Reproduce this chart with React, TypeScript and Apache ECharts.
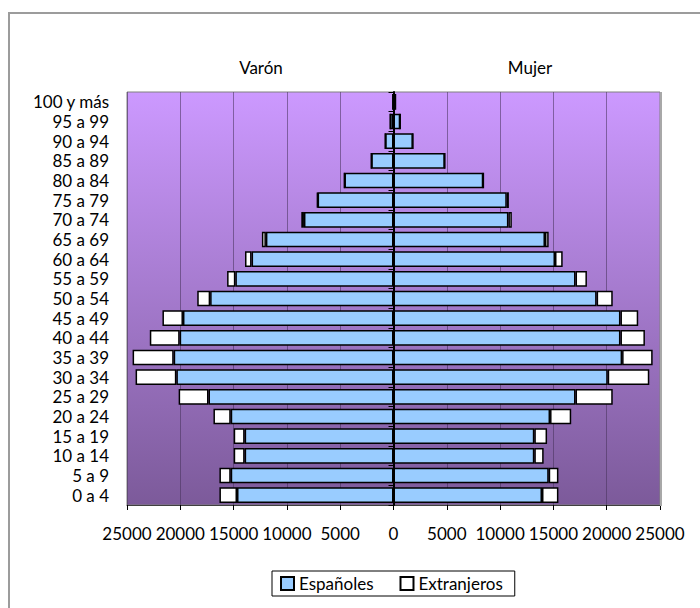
import React, { useEffect, useRef } from 'react';
import * as echarts from 'echarts';

const ageGroups = ['0 a 4', '5 a 9', '10 a 14', '15 a 19', '20 a 24', '25 a 29', '30 a 34', '35 a 39', '40 a 44', '45 a 49', '50 a 54', '55 a 59', '60 a 64', '65 a 69', '70 a 74', '75 a 79', '80 a 84', '85 a 89', '90 a 94', '95 a 99', '100 y más'];

const varonEspanoles = [14680, 15270, 13965, 13965, 15270, 17355, 20370, 20620, 20060, 19750, 17200, 14835, 13314, 11970, 8400, 7120, 4600, 2080, 775, 310, 60];
const varonExtranjeros = [1650, 1060, 1025, 1025, 1620, 2800, 3825, 3855, 2800, 1925, 1210, 775, 616, 375, 250, 40, 20, 10, 5, 3, 10];
const mujerEspanoles = [13930, 14560, 13210, 13210, 14685, 17075, 20095, 21445, 21290, 21290, 19055, 17075, 15150, 14210, 10780, 10625, 8420, 4810, 1820, 630, 180];
const mujerExtranjeros = [1540, 910, 875, 1195, 1985, 3490, 3900, 2865, 2295, 1665, 1510, 1070, 720, 345, 320, 200, 20, 10, 5, 3, 10];

const sideTitles = ['Varón', 'Mujer'];
const legendNames = ['Españoles', 'Extranjeros'];

const FONT = 'Lato';

export default function App() {
  const ref = useRef<HTMLDivElement>(null);

  useEffect(() => {
    const chart = echarts.init(ref.current!, null, { renderer: 'svg' });
    const barBase = {
      type: 'bar',
      stack: 'total',
      barCategoryGap: '20%',
      yAxisIndex: 0,
    };
    chart.setOption({
      animation: false,
      backgroundColor: '#ffffff',
      textStyle: { fontFamily: FONT },
      grid: {
        left: 127,
        right: 40,
        top: 92,
        bottom: 103,
        show: true,
        backgroundColor: new echarts.graphic.LinearGradient(0, 0, 0, 1, [
          { offset: 0, color: '#CC99FF' },
          { offset: 1, color: '#7C5A9A' },
        ]),
        borderColor: '#808080',
        borderWidth: 1,
      },
      xAxis: {
        type: 'value',
        min: -25000,
        max: 25000,
        interval: 5000,
        axisLine: { show: true, onZero: false, lineStyle: { color: '#404040', width: 1 } },
        axisTick: { show: true, length: 5, lineStyle: { color: '#000', width: 1 } },
        axisLabel: {
          formatter: (v: number) => String(Math.abs(v)),
          color: '#000',
          fontSize: 17,
          fontFamily: FONT,
          margin: 20,
        },
        splitLine: { show: true, lineStyle: { color: 'rgba(70,50,90,0.55)', width: 1 } },
      },
      yAxis: [
        {
          type: 'category',
          data: ageGroups,
          axisLine: { show: false, onZero: false },
          axisTick: { show: false },
          axisLabel: { interval: 0, color: '#000', fontSize: 17, fontFamily: FONT, margin: 18 },
          splitLine: { show: false },
        },
        {
          type: 'category',
          data: ageGroups,
          position: 'left',
          z: 10,
          axisLine: { show: true, onZero: true, lineStyle: { color: '#000', width: 2 } },
          axisTick: { show: true, interval: 0, length: 5, lineStyle: { color: '#000', width: 1 } },
          axisLabel: { show: false, interval: 0 },
          splitLine: { show: false },
        },
      ],
      legend: {
        data: legendNames,
        left: 272,
        top: 571,
        orient: 'horizontal',
        icon: 'rect',
        itemWidth: 13,
        itemHeight: 13,
        itemGap: 26,
        padding: [4, 12, 4, 8],
        borderColor: '#000',
        borderWidth: 1,
        backgroundColor: '#fff',
        selectedMode: false,
        textStyle: { fontSize: 17, color: '#000', fontFamily: FONT },
      },
      graphic: [
        {
          type: 'rect',
          shape: { x: 9, y: 13, width: 730, height: 640 },
          style: { fill: 'none', stroke: '#9c9c9c', lineWidth: 2 },
          z: 100,
        },
        {
          type: 'line',
          shape: { x1: 661, y1: 92, x2: 661, y2: 506 },
          style: { stroke: '#a8a8a8', lineWidth: 2 },
          z: 100,
        },
        {
          type: 'text',
          x: 261,
          y: 67,
          style: { text: sideTitles[0], align: 'center', verticalAlign: 'middle', fontSize: 17, fontFamily: FONT, fill: '#000' },
        },
        {
          type: 'text',
          x: 530,
          y: 67,
          style: { text: sideTitles[1], align: 'center', verticalAlign: 'middle', fontSize: 17, fontFamily: FONT, fill: '#000' },
        },
      ],
      series: [
        {
          ...barBase,
          name: legendNames[0],
          data: varonEspanoles.map((v) => -v),
          itemStyle: { color: '#99CCFF', borderColor: '#000', borderWidth: 1.5 },
        },
        {
          ...barBase,
          name: legendNames[1],
          data: varonExtranjeros.map((v) => -v),
          itemStyle: { color: '#FFFFFF', borderColor: '#000', borderWidth: 1.5 },
        },
        {
          ...barBase,
          name: legendNames[0],
          data: mujerEspanoles,
          itemStyle: { color: '#99CCFF', borderColor: '#000', borderWidth: 1.5 },
        },
        {
          ...barBase,
          name: legendNames[1],
          data: mujerExtranjeros,
          itemStyle: { color: '#FFFFFF', borderColor: '#000', borderWidth: 1.5 },
        },
      ],
    });
    return () => chart.dispose();
  }, []);

  return (
    <div
      ref={ref}
      style={{ position: 'fixed', left: 0, top: 0, width: 700, height: 608, background: '#fff' }}
    />
  );
}
